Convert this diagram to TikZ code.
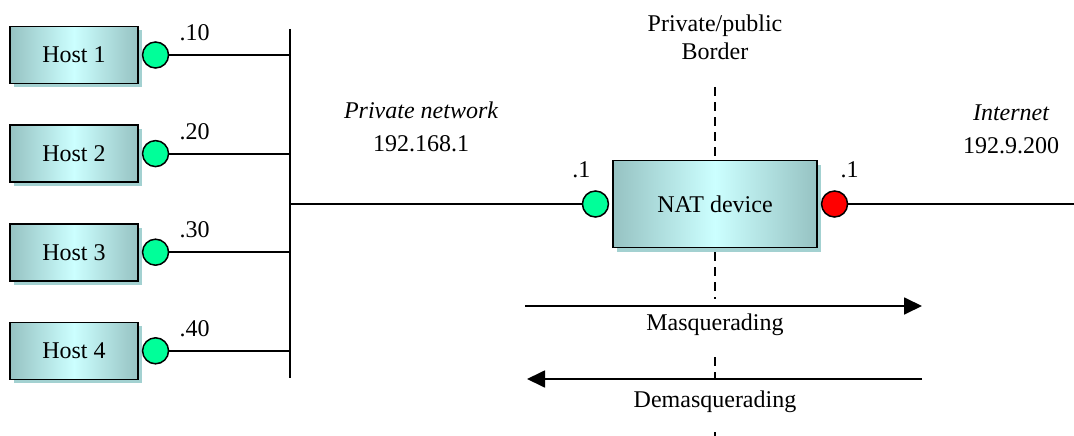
\documentclass[tikz,border=0pt]{standalone}
\usepackage{fontspec}
\setmainfont{Liberation Serif}
\usetikzlibrary{arrows.meta,positioning,shadows}
\definecolor{boxedge}{HTML}{96C2C2}
\definecolor{boxmid}{HTML}{CCFFFF}
\definecolor{boxshade}{HTML}{A3D1D1}
\definecolor{portok}{HTML}{00FF99}
\definecolor{portout}{HTML}{FF0000}

\begin{document}
\begin{tikzpicture}[
  x=1pt, y=-1pt,
  font=\fontsize{24}{28}\selectfont,
  node distance=40pt and 3pt,
  box/.style={draw, line width=1.6pt, left color=boxedge, right color=boxedge,
    middle color=boxmid,
    drop shadow={shadow xshift=4pt, shadow yshift=-4pt, fill=boxshade, opacity=1}},
  host/.style={box, minimum width=128pt, minimum height=57pt},
  port/.style={circle, draw, line width=1.5pt, fill=portok, minimum size=26pt, inner sep=0pt},
  wire/.style={line width=1.8pt},
  flow/.style={line width=1.8pt, -{Triangle[length=18pt, width=17pt]}},
  border/.style={line width=1.4pt, dash pattern=on 9pt off 6pt},
  tag/.style={fill=white, inner xsep=2pt, inner ysep=15pt},
]
\useasboundingbox (0,0) rectangle (1074,436);

% private/public border, cut by the NAT box and the labels
\coordinate (brdtop) at (715,87);
\coordinate (brdbot) at (715,436);
\draw[border] (brdtop) -- (brdbot);
\node[align=center] (brd) at (715,37) {Private/public\\Border};

% hosts on the private segment
\node[host] (h1) at (74,55) {Host 1};
\node[host, below=of h1] (h2) {Host 2};
\node[host, below=of h2] (h3) {Host 3};
\node[host, below=of h3] (h4) {Host 4};
\node[port, right=of h1] (p1) {};
\node[port, right=of h2] (p2) {};
\node[port, right=of h3] (p3) {};
\node[port, right=of h4] (p4) {};

\coordinate (bustop) at (290,29);
\coordinate (busbot) at (290,378);
\draw[wire] (bustop) -- (busbot);
\draw[wire] (p1) -- (p1 -| bustop) node[pos=0.21, above=10pt] {.10};
\draw[wire] (p2) -- (p2 -| bustop) node[pos=0.21, above=10pt] {.20};
\draw[wire] (p3) -- (p3 -| bustop) node[pos=0.21, above=10pt] {.30};
\draw[wire] (p4) -- (p4 -| bustop) node[pos=0.21, above=10pt] {.40};

% NAT device between the two networks
\node[box, minimum width=204pt, minimum height=87pt] (nat) at (715,204) {NAT device};
\node[port, left=of nat] (pin) {};
\node[port, right=of nat, fill=portout] (pout) {};
\coordinate (inet) at (1074,204);
\draw[wire] (pin) -- (pin -| bustop);
\draw[wire] (pout) -- (inet);
\node[above=9pt of pin.north, xshift=-14pt] (pinlbl) {.1};
\node[above=9pt of pout.north, xshift=15pt] (poutlbl) {.1};

\node[align=center] (privnet) at (421,127) {{\itshape Private network}\\[5pt]192.168.1};
\node[align=center] (inetnet) at (1011,129) {{\itshape Internet}\\[5pt]192.9.200};

% translation directions
\node[tag] (masq) at (715,325) {Masquerading};
\node[tag, inner ysep=13pt] (demasq) at (715,402) {Demasquerading};
\coordinate (mqL) at (525,306);
\coordinate (mqR) at (922,306);
\coordinate (dmL) at (527,379);
\coordinate (dmR) at (922,379);
\draw[flow] (mqL) -- (mqR);
\draw[flow] (dmR) -- (dmL);
\end{tikzpicture}
\end{document}
